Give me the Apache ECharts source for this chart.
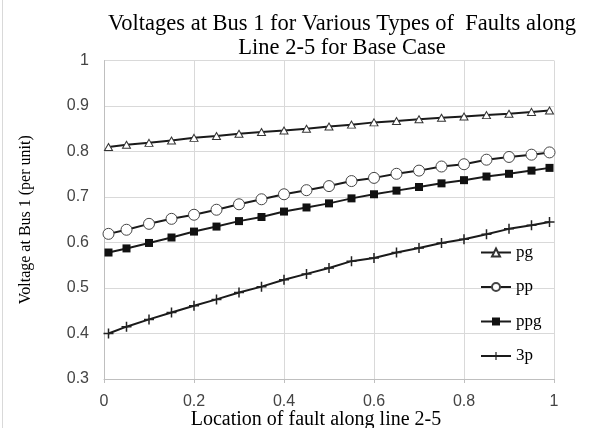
<!DOCTYPE html>
<html>
<head>
<meta charset="utf-8">
<script src="https://cdn.jsdelivr.net/npm/echarts@6/dist/echarts.min.js"></script>
<style>
html,body{margin:0;padding:0;background:#fff;}
#chart{width:603px;height:428px;}
</style>
</head>
<body>
<div id="chart"></div>
<script>
// Location of fault along line 2-5 (x values)
const locations = [0.01,0.05,0.10,0.15,0.20,0.25,0.30,0.35,0.40,0.45,0.50,0.55,0.60,0.65,0.70,0.75,0.80,0.85,0.90,0.95,0.99];
// Voltage at Bus 1 (per unit)
const pg  = [0.810,0.815,0.819,0.824,0.830,0.834,0.839,0.843,0.846,0.850,0.855,0.859,0.864,0.867,0.871,0.874,0.877,0.880,0.883,0.887,0.890];
const pp  = [0.619,0.628,0.641,0.652,0.661,0.672,0.684,0.695,0.706,0.715,0.724,0.735,0.742,0.751,0.758,0.767,0.772,0.782,0.788,0.793,0.798];
const ppg = [0.578,0.587,0.599,0.611,0.624,0.635,0.647,0.656,0.668,0.677,0.686,0.697,0.706,0.714,0.722,0.730,0.737,0.745,0.751,0.758,0.764];
const p3  = [0.400,0.415,0.431,0.446,0.461,0.475,0.490,0.503,0.518,0.531,0.544,0.559,0.566,0.578,0.588,0.599,0.607,0.618,0.630,0.638,0.645];
const seriesNames = ['pg','pp','ppg','3p'];

const serif = 'Liberation Serif';
const sans = 'Liberation Sans';
const lineColor = '#1a1a1a';
const plusPath = 'path://M4.25,0H5.75V4.25H10V5.75H5.75V10H4.25V5.75H0V4.25H4.25Z';

function pairs(vals){ return locations.map((x,i)=>[x, vals[i]]); }

function mkSeries(name, vals, symbol, size, itemStyle){
  return {
    name: name, type: 'line', data: pairs(vals),
    symbol: symbol, symbolSize: size, showSymbol: true,
    lineStyle: {color: lineColor, width: 2},
    itemStyle: itemStyle,
    emphasis: {disabled: true},
    z: 3
  };
}

const chart = echarts.init(document.getElementById('chart'), null, {renderer: 'canvas'});
chart.setOption({
  animation: false,
  backgroundColor: '#fff',
  title: {
    text: 'Voltages at Bus 1 for Various Types of  Faults along\nLine 2-5 for Base Case',
    left: 337, top: 7, textAlign: 'center',
    textStyle: {fontFamily: serif, fontSize: 22.5, fontWeight: 'normal', color: '#000', lineHeight: 24}
  },
  grid: {left: 104, right: 49, top: 60.5, bottom: 49, containLabel: false, outerBoundsMode: 'none'},
  legend: {
    orient: 'vertical', left: 475, top: 239,
    itemWidth: 30, itemHeight: 10, itemGap: 17.5,
    data: seriesNames,
    textStyle: {fontFamily: serif, fontSize: 17, color: '#000'},
    selectedMode: false
  },
  xAxis: {
    type: 'value', min: 0, max: 1, interval: 0.2,
    name: 'Location of fault along line 2-5', nameLocation: 'middle', nameGap: 31,
    nameMoveOverlap: false,
    nameTextStyle: {fontFamily: serif, fontSize: 20, color: '#000', padding: [0,26,0,0]},
    axisLine: {show: true, lineStyle: {color: '#bfbfbf', width: 1}},
    axisTick: {show: true, inside: false, length: 4, lineStyle: {color: '#bfbfbf'}},
    axisLabel: {fontFamily: sans, fontSize: 16, color: '#444', margin: 15},
    splitLine: {show: true, lineStyle: {color: '#d9d9d9', width: 1}}
  },
  yAxis: {
    type: 'value', min: 0.3, max: 1, interval: 0.1,
    name: 'Voltage at Bus 1 (per unit)', nameLocation: 'middle', nameGap: 70,
    nameMoveOverlap: false,
    nameTextStyle: {fontFamily: serif, fontSize: 16, color: '#000'},
    axisLine: {show: true, lineStyle: {color: '#bfbfbf', width: 1}},
    axisTick: {show: false},
    axisLabel: {fontFamily: sans, fontSize: 16, color: '#444', margin: 15,
      formatter: v => String(Math.round(v*10)/10)},
    splitLine: {show: true, lineStyle: {color: '#d9d9d9', width: 1}}
  },
  graphic: [{
    type: 'line', shape: {x1: 2.5, y1: 0, x2: 2.5, y2: 428},
    style: {stroke: '#d9d9d9', lineWidth: 1}, silent: true
  }],
  series: [
    mkSeries('pg', pg, 'triangle', [8,7], {color: '#fff', borderColor: '#333', borderWidth: 1}),
    mkSeries('pp', pp, 'circle', 11, {color: '#fff', borderColor: '#444', borderWidth: 1}),
    mkSeries('ppg', ppg, 'rect', 8, {color: '#111', borderWidth: 0}),
    mkSeries('3p', p3, plusPath, 10, {color: '#222', borderWidth: 0})
  ]
});
</script>
</body>
</html>
